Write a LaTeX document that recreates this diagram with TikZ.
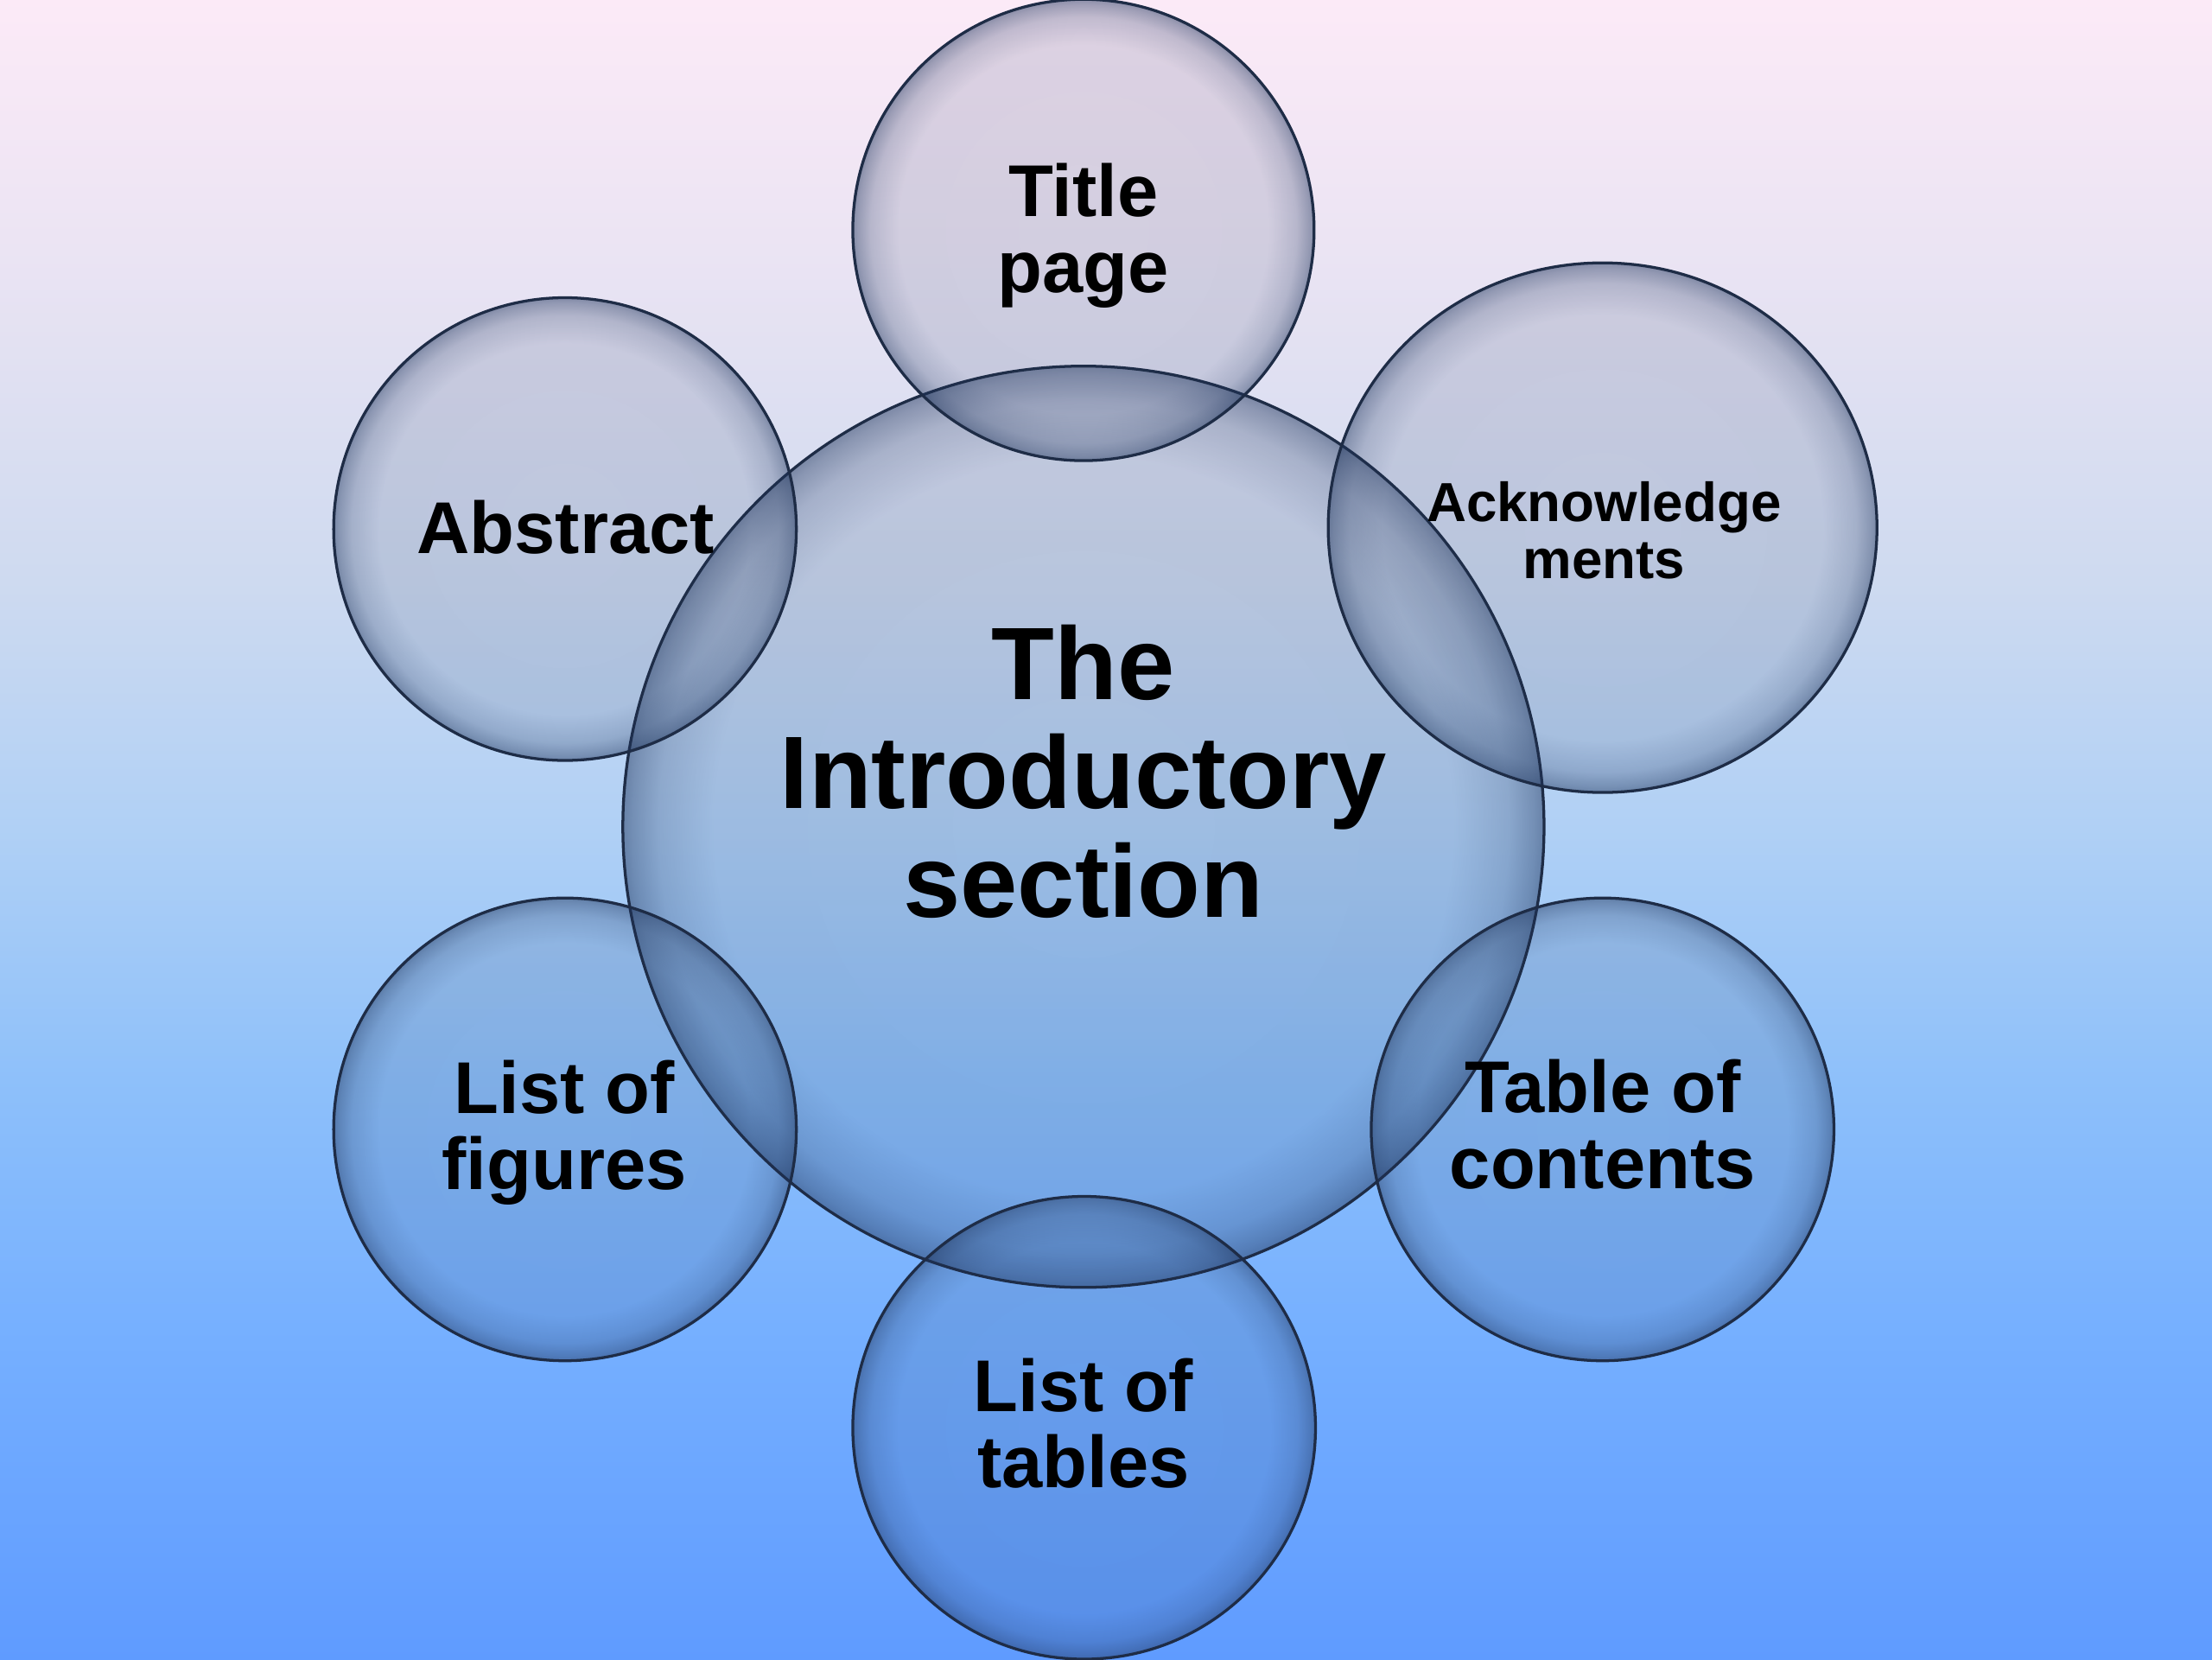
\documentclass[tikz,border=0pt]{standalone}
\usepackage{fontspec}
\setmainfont{Liberation Sans}
\usetikzlibrary{fadings,shapes.geometric}
\definecolor{edgecol}{RGB}{30,44,70}
\definecolor{bubcol}{RGB}{30,52,92}
% TikZ fits the 25bp..75bp band of a shading to the path
\pgfdeclareverticalshading{bgshade}{100bp}{rgb(0bp)=(0.373,0.608,1.0); rgb(25bp)=(0.373,0.608,1.0); rgb(35bp)=(0.463,0.69,1.0); rgb(42.5bp)=(0.557,0.753,0.98); rgb(50bp)=(0.69,0.816,0.961); rgb(57.5bp)=(0.808,0.855,0.941); rgb(67.5bp)=(0.922,0.894,0.953); rgb(75bp)=(0.988,0.918,0.969); rgb(100bp)=(0.988,0.918,0.969)}
\pgfdeclareradialshading{rimshade}{\pgfpointorigin}{gray(0bp)=(0.12); gray(20bp)=(0.13); gray(23bp)=(0.26); gray(24.4bp)=(0.42); gray(25bp)=(0.52); gray(50bp)=(0.52)}
\pgfdeclarefading{rimfade}{\pgfuseshading{rimshade}}
\tikzset{
  bubble/.style={circle, inner sep=0pt, draw=edgecol, line width=2pt,
    preaction={fill=bubcol, path fading=rimfade, fit fading=true}},
  lbl/.style={font=\bfseries\fontsize{52}{54}\selectfont, align=center, inner sep=0pt, text=black},
  smalllbl/.style={font=\bfseries\fontsize{39}{40}\selectfont, align=center, inner sep=0pt, text=black},
  biglbl/.style={font=\bfseries\fontsize{73}{77}\selectfont, align=center, inner sep=0pt, text=black}
}
\begin{document}
\begin{tikzpicture}[x=1pt,y=-1pt]
\useasboundingbox (0,0) rectangle (1568,1176);
\shade[shading=bgshade] (0,0) rectangle (1568,1176);
% bubbles
\node[bubble, minimum size=653pt] (center) at (768,586) {};
\node[bubble, minimum size=327pt] (title) at (768,163) {};
\node[bubble, minimum size=328pt] (abstract) at (400.5,375) {};
\node[bubble, shape=ellipse, minimum width=389pt, minimum height=375.4pt] (ack) at (1136,374) {};
\node[bubble, minimum size=328pt] (figures) at (400.5,800.5) {};
\node[bubble, minimum size=328pt] (toc) at (1136,800.5) {};
\node[bubble, minimum size=328pt] (tables) at (768.5,1012) {};
% labels
\node[biglbl] (tcenter) at (768,547) {The\\Introductory\\section};
\node[lbl] (ttitle) at (768,167) {Title\\page};
\node[lbl] (tabstract) at (401,374) {Abstract};
\node[smalllbl] (tack) at (1137,376) {Acknowledge\\ments};
\node[lbl] (tfigures) at (400,803) {List of\\figures};
\node[lbl] (ttoc) at (1136,797) {Table of\\contents};
\node[lbl] (ttables) at (768,1009) {List of\\tables};
\end{tikzpicture}
\end{document}
